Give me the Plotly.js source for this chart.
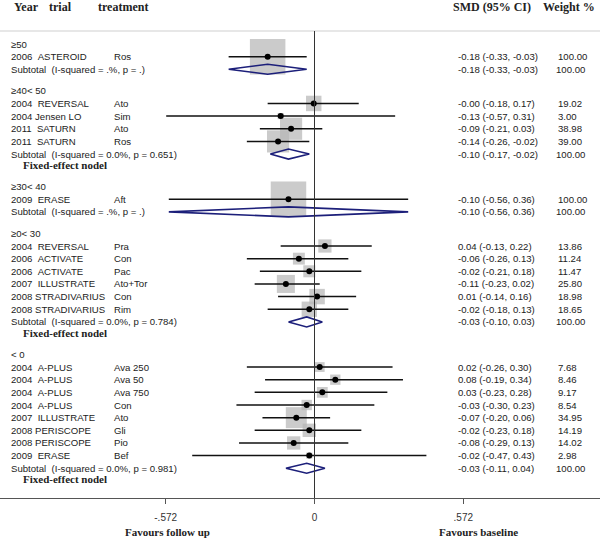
<!DOCTYPE html>
<html>
<head>
<meta charset="utf-8">
<script src="https://cdn.plot.ly/plotly-3.0.1.min.js"></script>
<style>
  body { margin: 0; background: #fff; }
  #plotArea { width: 600px; height: 539px; }
</style>
</head>
<body>
<div id="plotArea"></div>
<script>
// subgroups (age band)
const groupLabels = ['\u226550', '\u226540< 50', '\u226530< 40', '\u22650< 30', '< 0'];
const groupI2 = ['.%', '0.0%', '.%', '0.0%', '0.0%'];
const groupP = ['.', '0.651', '.', '0.784', '0.981'];
const groupFixedNote = [false, true, false, true, true];
const subSmd = [-0.18, -0.10, -0.10, -0.03, -0.03];
const subLow = [-0.33, -0.17, -0.56, -0.10, -0.11];
const subHigh = [-0.03, -0.02, 0.36, 0.03, 0.04];

// studies
const studyGroup = [0, 1, 1, 1, 1, 2, 3, 3, 3, 3, 3, 3, 4, 4, 4, 4, 4, 4, 4, 4];
const studyNames = [
  '2006  ASTEROID',
  '2004  REVERSAL', '2004 Jensen LO', '2011  SATURN', '2011  SATURN',
  '2009  ERASE',
  '2004  REVERSAL', '2006  ACTIVATE', '2006  ACTIVATE', '2007  ILLUSTRATE', '2008 STRADIVARIUS', '2008 STRADIVARIUS',
  '2004  A-PLUS', '2004  A-PLUS', '2004  A-PLUS', '2004  A-PLUS', '2007  ILLUSTRATE', '2008 PERISCOPE', '2008 PERISCOPE', '2009  ERASE'
];
const treatments = [
  'Ros',
  'Ato', 'Sim', 'Ato', 'Ros',
  'Aft',
  'Pra', 'Con', 'Pac', 'Ato+Tor', 'Con', 'Rim',
  'Ava 250', 'Ava 50', 'Ava 750', 'Con', 'Ato', 'Gli', 'Pio', 'Bef'
];
const smd = [-0.18, -0.003, -0.13, -0.09, -0.14, -0.10, 0.04, -0.06, -0.02, -0.11, 0.01, -0.02,
  0.02, 0.08, 0.03, -0.03, -0.07, -0.02, -0.08, -0.02];
const ciLow = [-0.33, -0.18, -0.57, -0.21, -0.26, -0.56, -0.13, -0.26, -0.21, -0.23, -0.14, -0.18,
  -0.26, -0.19, -0.23, -0.30, -0.20, -0.23, -0.29, -0.47];
const ciHigh = [-0.03, 0.17, 0.31, 0.03, -0.02, 0.36, 0.22, 0.13, 0.18, 0.02, 0.16, 0.13,
  0.30, 0.34, 0.28, 0.23, 0.06, 0.18, 0.13, 0.43];
const weights = [100.00, 19.02, 3.00, 38.98, 39.00, 100.00, 13.86, 11.24, 11.47, 25.80, 18.98, 18.65,
  7.68, 8.46, 9.17, 8.54, 34.95, 14.19, 14.02, 2.98];

const xTicks = [-0.572, 0, 0.572];
const xTickText = ['-.572', '0', '.572'];

// ---- layout of rows (pixel rows, y axis runs 0..498 top-down)
const W = 600, plotH = 498, zeroPx = 314.5, pxPerUnit = 260.2;
const step = 12.65;
const sans = 'Arial, "Liberation Sans", sans-serif';
const serif = '"Times New Roman", "Liberation Serif", serif';
const fmt = v => v.toFixed(2);
const ci = (e, l, h) => fmt(e) + ' (' + fmt(l) + ', ' + fmt(h) + ')';

let annotations = [];
function txt(px, y, text, opts) {
  opts = opts || {};
  const below = y > plotH;  // outside the y range -> place in paper coords
  annotations.push({
    xref: 'paper', yref: below ? 'paper' : 'y', x: px / W, y: below ? (plotH - y) / plotH : y, text: text,
    xanchor: opts.anchor || 'left', yanchor: 'middle', showarrow: false,
    borderpad: 0,
    font: {family: opts.family || sans, size: opts.size || 9.6, color: opts.color || '#222',
           weight: opts.weight || 'normal'}
  });
}

let studyY = new Array(smd.length);
let subY = [];
let y = 44;
for (let g = 0; g < groupLabels.length; g++) {
  txt(10, y, groupLabels[g]);
  for (let i = 0; i < smd.length; i++) {
    if (studyGroup[i] !== g) continue;
    y += step;
    studyY[i] = y;
  }
  y += step;
  subY[g] = y;
  if (groupFixedNote[g]) {
    txt(22, y + 11, 'Fixed-effect nodel', {family: serif, size: 11, weight: 'bold'});
    y += 32.5;
  } else {
    y += 21.5;
  }
}

// study text
for (let i = 0; i < smd.length; i++) {
  txt(10, studyY[i], studyNames[i].replace(/ /g, '\u00a0'));
  txt(113, studyY[i], treatments[i]);
  txt(457, studyY[i], ci(smd[i], ciLow[i], ciHigh[i]));
  txt(557, studyY[i], weights[i].toFixed(2));
}
for (let g = 0; g < groupLabels.length; g++) {
  txt(10, subY[g], 'Subtotal\u00a0\u00a0(I-squared = ' + groupI2[g] + ', p = ' + groupP[g] + ')');
  txt(457, subY[g], ci(subSmd[g], subLow[g], subHigh[g]));
  txt(555, subY[g], '100.00');
}

// headers
txt(13, 7, 'Year', {family: serif, size: 12, weight: 'bold'});
txt(48, 7, 'trial', {family: serif, size: 12, weight: 'bold'});
txt(97, 7, 'treatment', {family: serif, size: 12, weight: 'bold'});
txt(452, 7, 'SMD (95% CI)', {family: serif, size: 12, weight: 'bold'});
txt(542, 7, 'Weight %', {family: serif, size: 12, weight: 'bold'});

txt(167, 532, 'Favours follow up', {family: serif, size: 11, weight: 'bold', anchor: 'center'});
txt(478, 532, 'Favours baseline', {family: serif, size: 11, weight: 'bold', anchor: 'center'});

// ---- traces
const boxes = {
  x: smd, y: studyY, type: 'scatter', mode: 'markers', hoverinfo: 'skip',
  marker: {symbol: 'square', size: weights.map(w => 35.5 * Math.sqrt(w / 100)), color: '#b5b5b5', line: {width: 0}}
};

let ciX = [], ciYs = [];
for (let i = 0; i < smd.length; i++) {
  ciX.push(ciLow[i], ciHigh[i], null);
  ciYs.push(studyY[i], studyY[i], null);
}
const ciLines = {x: ciX, y: ciYs, type: 'scatter', mode: 'lines', hoverinfo: 'skip',
  line: {color: '#111', width: 1.5}};

let dX = [], dY = [];
const half = 5;
for (let g = 0; g < groupLabels.length; g++) {
  dX.push(subLow[g], subSmd[g], subHigh[g], subSmd[g], subLow[g], null);
  dY.push(subY[g], subY[g] - half, subY[g], subY[g] + half, subY[g], null);
}
const diamonds = {x: dX, y: dY, type: 'scatter', mode: 'lines', hoverinfo: 'skip',
  line: {color: '#1c1f7a', width: 1.6}};

const dots = {x: smd, y: studyY, type: 'scatter', mode: 'markers', hoverinfo: 'skip',
  marker: {size: 6, color: '#000'}};

const layout = {
  width: 600, height: 539,
  margin: {l: 0, r: 0, t: 0, b: 41},
  paper_bgcolor: '#fff', plot_bgcolor: '#fff',
  showlegend: false,
  xaxis: {
    range: [-zeroPx / pxPerUnit, (W - zeroPx) / pxPerUnit],
    tickvals: xTicks, ticktext: xTickText,
    ticks: 'outside', ticklen: 5, tickcolor: '#555', tickwidth: 1,
    ticklabelstandoff: 5,
    showline: true, linecolor: '#555', linewidth: 1,
    showgrid: false, zeroline: false, fixedrange: true,
    tickfont: {family: sans, size: 10, color: '#333'}
  },
  yaxis: {range: [plotH, 0], visible: false, fixedrange: true},
  shapes: [
    {type: 'line', xref: 'paper', yref: 'y', x0: 0, x1: 1, y0: 31, y1: 31, line: {color: '#cfcfcf', width: 1}},
    {type: 'line', xref: 'x', yref: 'y', x0: 0, x1: 0, y0: 31, y1: plotH, line: {color: '#333', width: 1}}
  ],
  annotations: annotations
};

Plotly.newPlot('plotArea', [boxes, ciLines, diamonds, dots], layout, {staticPlot: true});
</script>
</body>
</html>
